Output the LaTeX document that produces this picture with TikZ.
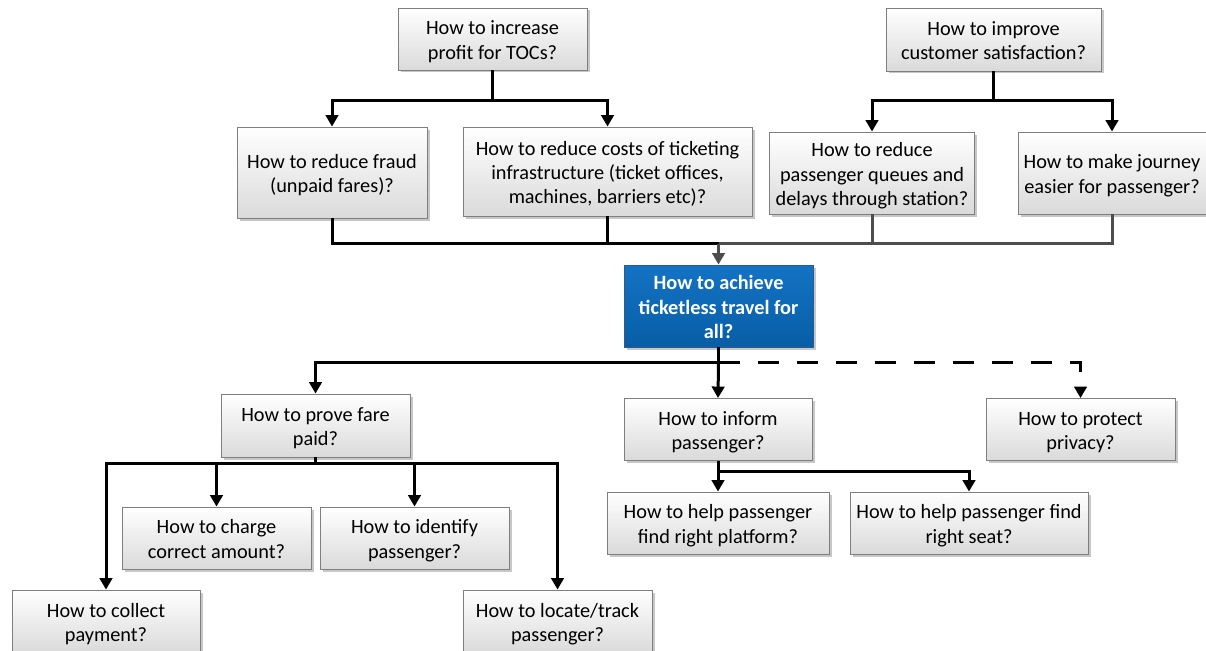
\documentclass[tikz,border=0pt]{standalone}
\usepackage{fontspec}
\setmainfont{Carlito}
\usetikzlibrary{arrows.meta,shadows,calc}

\definecolor{boxline}{HTML}{7F7F7F}
\definecolor{boxbottom}{HTML}{DADADA}
\definecolor{keytop}{HTML}{1473C4}
\definecolor{keybottom}{HTML}{075EA6}
\definecolor{keyline}{HTML}{2E5A8C}
\definecolor{greyline}{HTML}{4D4D4D}

% struts for the first and the last line, so that text sits on full line boxes
\newcommand{\topstrut}{\rule{0pt}{22pt}}
\newcommand{\bottomstrut}{\rule[-6pt]{0pt}{6pt}}
\newcommand{\qtext}[1]{\topstrut#1\bottomstrut}

\tikzset{
  qbox/.style={draw=boxline, line width=0.9pt, top color=white, bottom color=boxbottom,
    align=center, inner sep=2pt,
    font=\fontsize{20.3}{24.2}\selectfont,
    drop shadow={shadow xshift=2.5pt, shadow yshift=-2.5pt, fill=black, opacity=0.22}},
  keybox/.style={qbox, draw=keyline, top color=keytop, bottom color=keybottom,
    text=white, font=\fontsize{20.3}{24.2}\selectfont\bfseries},
  link/.style={line width=3pt, draw=black},
  greylink/.style={line width=3pt, draw=greyline},
  tip/.style={-{Triangle[width=12.5pt,length=11.5pt]}},
  dashlink/.style={link, dash pattern=on 21pt off 18pt}
}

\begin{document}
\begin{tikzpicture}[x=1pt,y=-1pt]
\useasboundingbox (0,0) rectangle (1206,650);
\clip (0,0) rectangle (1206,650);

% top level questions
\node[qbox, minimum width=189pt, minimum height=62pt] (profit) at (492.5,39) {\qtext{How to increase\\profit for TOCs?}};
\node[qbox, minimum width=215pt, minimum height=63pt] (satis) at (993.5,39.5) {\qtext{How to improve\\customer satisfaction?}};

% second level
\node[qbox, minimum width=190pt, minimum height=91pt] (fraud) at (332,172.5) {\qtext{How to reduce fraud\\(unpaid fares)?}};
\node[qbox, minimum width=289pt, minimum height=89pt] (costs) at (607.5,171.5) {\qtext{How to reduce costs of ticketing\\infrastructure (ticket offices,\\machines, barriers etc)?}};
\node[qbox, minimum width=205pt, minimum height=82pt] (queues) at (872,173) {\qtext{How to reduce\\passenger queues and\\delays through station?}};
\node[qbox, minimum width=188pt, minimum height=82pt] (journey) at (1112,173) {\qtext{How to make journey\\easier for passenger?}};

% central question
\node[keybox, minimum width=189pt, minimum height=82pt] (central) at (718.5,306) {\qtext{How to achieve\\ticketless travel for\\all?}};

% third level
\node[qbox, minimum width=189pt, minimum height=63pt] (prove) at (315.5,425.5) {\qtext{How to prove fare\\paid?}};
\node[qbox, minimum width=188pt, minimum height=62pt] (inform) at (718,429.5) {\qtext{How to inform\\passenger?}};
\node[qbox, minimum width=189pt, minimum height=62pt] (privacy) at (1080.5,429.5) {\qtext{How to protect\\privacy?}};

% fourth level
\node[qbox, minimum width=189pt, minimum height=62pt] (charge) at (216.5,538) {\qtext{How to charge\\correct amount?}};
\node[qbox, minimum width=189pt, minimum height=62pt] (identify) at (414.5,538) {\qtext{How to identify\\passenger?}};
\node[qbox, minimum width=188pt, minimum height=63pt] (collect) at (106,621.5) {\qtext{How to collect\\payment?}};
\node[qbox, minimum width=189pt, minimum height=63pt] (locate) at (557.5,621.5) {\qtext{How to locate/track\\passenger?}};
\node[qbox, minimum width=222pt, minimum height=62pt] (platform) at (718,523) {\qtext{How to help passenger\\find right platform?}};
\node[qbox, minimum width=238pt, minimum height=62pt] (seat) at (969,523) {\qtext{How to help passenger find\\right seat?}};

% junction points of the connector buses
\coordinate (jprofit) at ($(profit.south)+(0,30)$);
\coordinate (jsatis) at ($(satis.south)+(0,29)$);
\coordinate (jtop) at ($(central.north)+(0,-21)$);
\coordinate (jcentral) at ($(central.south)+(0,15)$);
\coordinate (jprove) at ($(prove.south)+(0,6)$);
\coordinate (jinform) at ($(inform.south)+(0,11)$);

% profit branch
\draw[link] (profit.south) -- (jprofit);
\draw[link,tip] (jprofit) -| (fraud.north);
\draw[link,tip] (jprofit) -| (costs.north);

% satisfaction branch
\draw[link] (satis.south) -- (jsatis);
\draw[link,tip] (jsatis) -| (queues.north);
\draw[link,tip] (jsatis) -| (journey.north);

% all four feed the central question
\draw[link] (fraud.south) |- (jtop);
\draw[link] (costs.south) |- (jtop);
\draw[greylink] (queues.south) |- (jtop);
\draw[greylink] (journey.south) |- (jtop);
\draw[greylink,tip] (jtop) -- (central.north);

% central question breaks down
\draw[dashlink,tip] (jcentral) -| (privacy.north);
\draw[link] (central.south) -- (jcentral);
\draw[link,tip] (jcentral) -| (prove.north);
\draw[link,tip] (jcentral) -- (inform.north);

% proof of fare
\draw[link] (prove.south) -- (jprove);
\draw[link,tip] (jprove) -| (collect.north);
\draw[link,tip] (jprove) -| (charge.north);
\draw[link,tip] (jprove) -| (identify.north);
\draw[link,tip] (jprove) -| (locate.north);

% informing the passenger
\draw[link] (inform.south) -- (jinform);
\draw[link,tip] (jinform) -- (platform.north);
\draw[link,tip] (jinform) -| (seat.north);
\end{tikzpicture}
\end{document}
